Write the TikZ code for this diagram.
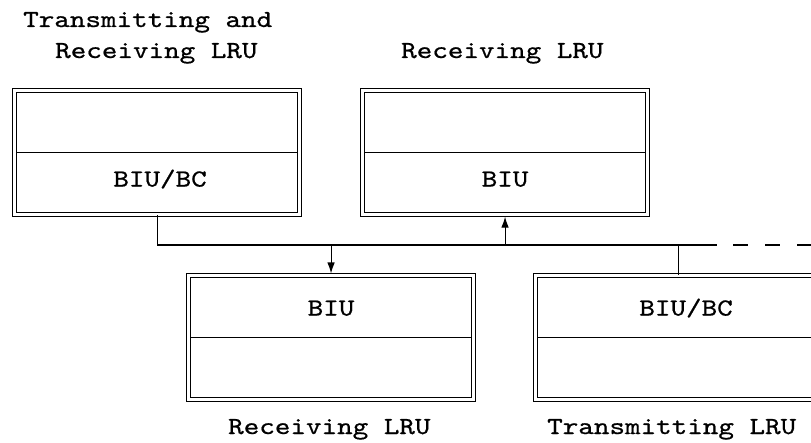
\documentclass[tikz,border=0pt]{standalone}
\usepackage{fontspec}
\setmonofont{lmmono10-regular.otf}[FakeStretch=1.21,FakeBold=0.7]
\usetikzlibrary{arrows.meta,calc}
\begin{document}
\begin{tikzpicture}[x=1pt,y=-1pt,
  lru/.style={draw, double, double distance=2.4pt, line width=1.1pt, inner sep=0pt,
    minimum width=285pt, minimum height=124pt, anchor=north west},
  txt/.style={font=\fontsize{24.5}{31}\selectfont\ttfamily, inner sep=0pt},
  wire/.style={line width=1.1pt},
  divider/.style={line width=1.1pt, shorten <=2.2pt, shorten >=2.2pt},
  tip/.style={-{Latex[length=11pt,width=7.5pt]}}]
  \useasboundingbox (0,0) rectangle (811,443);
  \clip (0,0) rectangle (811,443);

  % the four line replaceable units
  \node[lru] (b1) at (14,90) {};
  \node[lru] (b2) at (362,90) {};
  \node[lru] (b3) at (188,275) {};
  \node[lru] (b4) at (535,275) {};
  \foreach \b in {b1,b2,b3,b4}
    \draw[divider] (\b.west) -- (\b.east);

  % interface labels
  \node[txt, anchor=base] (l1) at ([xshift=3pt,yshift=-34pt]b1.center) {BIU/BC};
  \node[txt, anchor=base] (l2) at ([yshift=-34pt]b2.center) {BIU};
  \node[txt, anchor=base] (l3) at ([yshift=22pt]b3.center) {BIU};
  \node[txt, anchor=base] (l4) at ([xshift=8pt,yshift=22pt]b4.center) {BIU/BC};

  % unit captions (base of a two-line node is its last line)
  \node[txt, anchor=base west, align=left] (c1) at (23,58)
    {Transmitting and\\\hspace*{32pt}Receiving LRU};
  \node[txt, anchor=base west] (c2) at (401,58) {Receiving LRU};
  \node[txt, anchor=base west] (c3) at (228,434) {Receiving LRU};
  \node[txt, anchor=base west] (c4) at (547,434) {Transmitting LRU};

  % data bus
  \coordinate (busE) at (717,245);
  \coordinate (busR) at (811,245);
  \coordinate (t2) at (b2.south |- busE);
  \coordinate (t3) at (b3.north |- busE);
  \coordinate (t4) at (b4.north |- busE);
  \draw[wire] (b1.south) |- (busE);
  \draw[wire, dash pattern=on 15pt off 17pt, dash phase=16pt] (busE) -- (busR);
  \draw[wire, tip, shorten >=1.5pt] (t3) -- (b3.north);
  \draw[wire, tip, shorten >=1.5pt] (t2) -- (b2.south);
  \draw[wire] (t4) -- (b4.north);
\end{tikzpicture}
\end{document}
